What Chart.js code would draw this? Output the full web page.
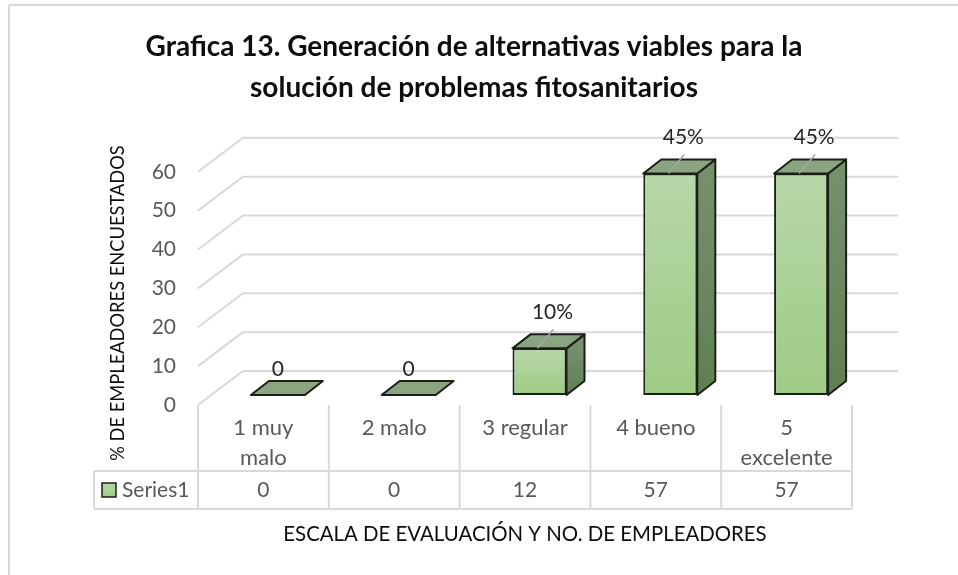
<!DOCTYPE html>
<html>
<head>
<meta charset="utf-8">
<title>Grafica 13</title>
<style>
html, body { margin: 0; padding: 0; background: #fff; }
canvas { display: block; }
</style>
<script src="https://cdn.jsdelivr.net/npm/chart.js@4/dist/chart.umd.min.js"></script>
</head>
<body>
<canvas id="mycanvas" width="958" height="575"></canvas>
<script>
// data
var categories = [['1 muy', 'malo'], ['2 malo'], ['3 regular'], ['4 bueno'], ['5', 'excelente']];
var seriesName = 'Series1';
var values = [0, 0, 12, 57, 57];
var pctLabels = ['0', '0', '10%', '45%', '45%'];
var titleLines = ['Grafica 13. Generación de alternativas viables para la', 'solución de problemas fitosanitarios'];
var yTitle = '% DE EMPLEADORES ENCUESTADOS';
var xTitle = 'ESCALA DE EVALUACIÓN Y NO. DE EMPLEADORES';

var font = 'Lato';
var gridColor = '#d9d9d9';
var textGrey = '#595959';
var edgeColor = '#1a1f18';

// fake 3d offsets, px
var wall = { dx: 45, dy: -34 };
var plane = { dx: 14.5, dy: -10 };
var bar = { dx: 18, dy: 14 };
var tableTop = 471, tableBottom = 509, tableLeft = 94;

function line(ctx, x1, y1, x2, y2) {
	ctx.beginPath();
	ctx.moveTo(x1, y1);
	ctx.lineTo(x2, y2);
	ctx.stroke();
}

var frame3d = {
	id: 'frame3d',
	beforeDraw: function(chart) {
		var ctx = chart.ctx;
		ctx.save();
		ctx.fillStyle = '#fff';
		ctx.fillRect(0, 0, chart.width, chart.height);
		ctx.strokeStyle = gridColor;
		ctx.lineWidth = 2;
		line(ctx, 9, 575, 9, 5);
		line(ctx, 9, 5, 958, 5);
		ctx.restore();
	},
	beforeDatasetsDraw: function(chart) {
		var ctx = chart.ctx, y = chart.scales.y, x = chart.scales.x;
		ctx.save();
		ctx.strokeStyle = gridColor;
		ctx.lineWidth = 2;
		// walls
		y.ticks.forEach(function(t) {
			var py = y.getPixelForValue(t.value);
			line(ctx, x.left, py, x.left + wall.dx, py + wall.dy);
			line(ctx, x.left + wall.dx, py + wall.dy, x.right + wall.dx + 1, py + wall.dy);
		});
		ctx.restore();

		// bar plane sits a bit behind the front edge
		ctx.save();
		ctx.translate(plane.dx, plane.dy);
		var meta = chart.getDatasetMeta(0);
		meta.data.forEach(function(el) {
			var p = el.getProps(['x', 'y', 'base', 'width'], true);
			var l = p.x - p.width / 2, r = p.x + p.width / 2;
			ctx.lineWidth = 2;
			ctx.strokeStyle = edgeColor;
			ctx.lineJoin = 'round';
			// side
			if (p.base - p.y > 0) {
				var g = ctx.createLinearGradient(0, p.y, 0, p.base);
				g.addColorStop(0, '#76906d');
				g.addColorStop(1, '#5f7f52');
				ctx.fillStyle = g;
				ctx.beginPath();
				ctx.moveTo(r, p.y);
				ctx.lineTo(r + bar.dx, p.y - bar.dy);
				ctx.lineTo(r + bar.dx, p.base - bar.dy);
				ctx.lineTo(r, p.base);
				ctx.closePath();
				ctx.fill();
				ctx.stroke();
			}
			// top
			ctx.fillStyle = '#8aa57f';
			ctx.beginPath();
			ctx.moveTo(l, p.y);
			ctx.lineTo(l + bar.dx, p.y - bar.dy);
			ctx.lineTo(r + bar.dx, p.y - bar.dy);
			ctx.lineTo(r, p.y);
			ctx.closePath();
			ctx.fill();
			ctx.stroke();
		});
	},
	afterDatasetsDraw: function(chart) {
		var ctx = chart.ctx, x = chart.scales.x;
		var meta = chart.getDatasetMeta(0);
		// leader lines and labels, still in the bar plane
		meta.data.forEach(function(el, i) {
			var p = el.getProps(['x', 'y'], true);
			var lx = p.x, ly = p.y - 26;
			if (values[i] > 0) {
				ctx.strokeStyle = '#a6a6a6';
				ctx.lineWidth = 1.5;
				line(ctx, p.x - 2, p.y, p.x + 14, p.y - 19);
				lx = p.x + 13;
				ly = p.y - 36;
			}
			ctx.fillStyle = '#262626';
			ctx.font = '21px ' + font;
			ctx.textAlign = 'center';
			ctx.textBaseline = 'middle';
			ctx.fillText(pctLabels[i], lx, ly);
		});
		ctx.restore();

		// data table under the axis
		var w = (x.right - x.left) / categories.length;
		ctx.save();
		ctx.strokeStyle = gridColor;
		ctx.lineWidth = 2;
		line(ctx, tableLeft, tableTop, x.right, tableTop);
		line(ctx, tableLeft, tableBottom, x.right, tableBottom);
		line(ctx, tableLeft, tableTop, tableLeft, tableBottom);
		for (var i = 0; i <= categories.length; i++) {
			line(ctx, x.left + i * w, chart.chartArea.bottom, x.left + i * w, tableBottom);
		}
		ctx.fillStyle = textGrey;
		ctx.font = '21px ' + font;
		ctx.textBaseline = 'middle';
		ctx.textAlign = 'center';
		values.forEach(function(v, i) {
			ctx.fillText(String(v), x.getPixelForTick(i), 490);
		});
		ctx.textAlign = 'left';
		ctx.fillText(seriesName, 122, 490);
		var g = ctx.createLinearGradient(0, 483, 0, 497);
		g.addColorStop(0, '#b7d7a8');
		g.addColorStop(1, '#9fcb85');
		ctx.fillStyle = g;
		ctx.fillRect(102, 483, 14, 14);
		ctx.strokeStyle = edgeColor;
		ctx.lineWidth = 1.5;
		ctx.strokeRect(102, 483, 14, 14);

		// y axis title, sits lower than the middle of the axis
		ctx.translate(118, 303);
		ctx.rotate(-Math.PI / 2);
		ctx.fillStyle = '#0d0d0d';
		ctx.font = '18.3px ' + font;
		ctx.textAlign = 'center';
		ctx.fillText(yTitle, 0, 0);
		ctx.restore();
	}
};

var ctx = document.getElementById('mycanvas');

var barGraph = new Chart(ctx, {
	type: 'bar',
	plugins: [frame3d],
	data: {
		labels: categories,
		datasets: [{
			label: seriesName,
			data: values,
			clip: false,
			barPercentage: 0.413,
			categoryPercentage: 1,
			borderColor: edgeColor,
			borderWidth: 2,
			borderSkipped: false,
			backgroundColor: function(c) {
				var y = c.chart.scales.y;
				if (!y || c.dataIndex === undefined) return '#a9cf94';
				var y0 = y.getPixelForValue(values[c.dataIndex]), y1 = y.getPixelForValue(0);
				if (!isFinite(y0) || !isFinite(y1)) return '#a9cf94';
				var g = c.chart.ctx.createLinearGradient(0, y0, 0, y1);
				g.addColorStop(0, '#b7d7a8');
				g.addColorStop(1, '#9fcb85');
				return g;
			}
		}]
	},
	options: {
		responsive: false,
		animation: false,
		layout: { padding: { top: 0, left: 0, right: 10, bottom: 0 } },
		plugins: {
			legend: { display: false },
			tooltip: { enabled: false },
			title: {
				display: true,
				text: titleLines,
				color: '#0d0d0d',
				font: { family: font, size: 28, weight: 'bold', lineHeight: 1.46 },
				padding: { top: 27, bottom: 63 }
			}
		},
		scales: {
			x: {
				grid: { display: false, drawTicks: false },
				border: { display: false },
				ticks: {
					color: textGrey,
					maxRotation: 0,
					padding: 8,
					font: { family: font, size: 22, lineHeight: 1.36 }
				},
				title: {
					display: true,
					text: xTitle,
					color: '#0d0d0d',
					font: { family: font, size: 20.4 },
					padding: { top: 0, bottom: 28 }
				},
				afterFit: function(s) { s.height = 170; }
			},
			y: {
				min: 0,
				max: 60,
				grid: { display: false, drawTicks: false },
				border: { display: false },
				ticks: {
					stepSize: 10,
					color: textGrey,
					padding: 22,
					font: { family: font, size: 21 }
				},
				afterFit: function(s) { s.width = 198; }
			},
			// empty box on the right, keeps the plot clear of the wall depth
			pad: {
				position: 'right',
				display: true,
				grid: { display: false },
				border: { display: false },
				ticks: { display: false },
				afterFit: function(s) { s.width = 96; }
			}
		}
	}
});
</script>
</body>
</html>
